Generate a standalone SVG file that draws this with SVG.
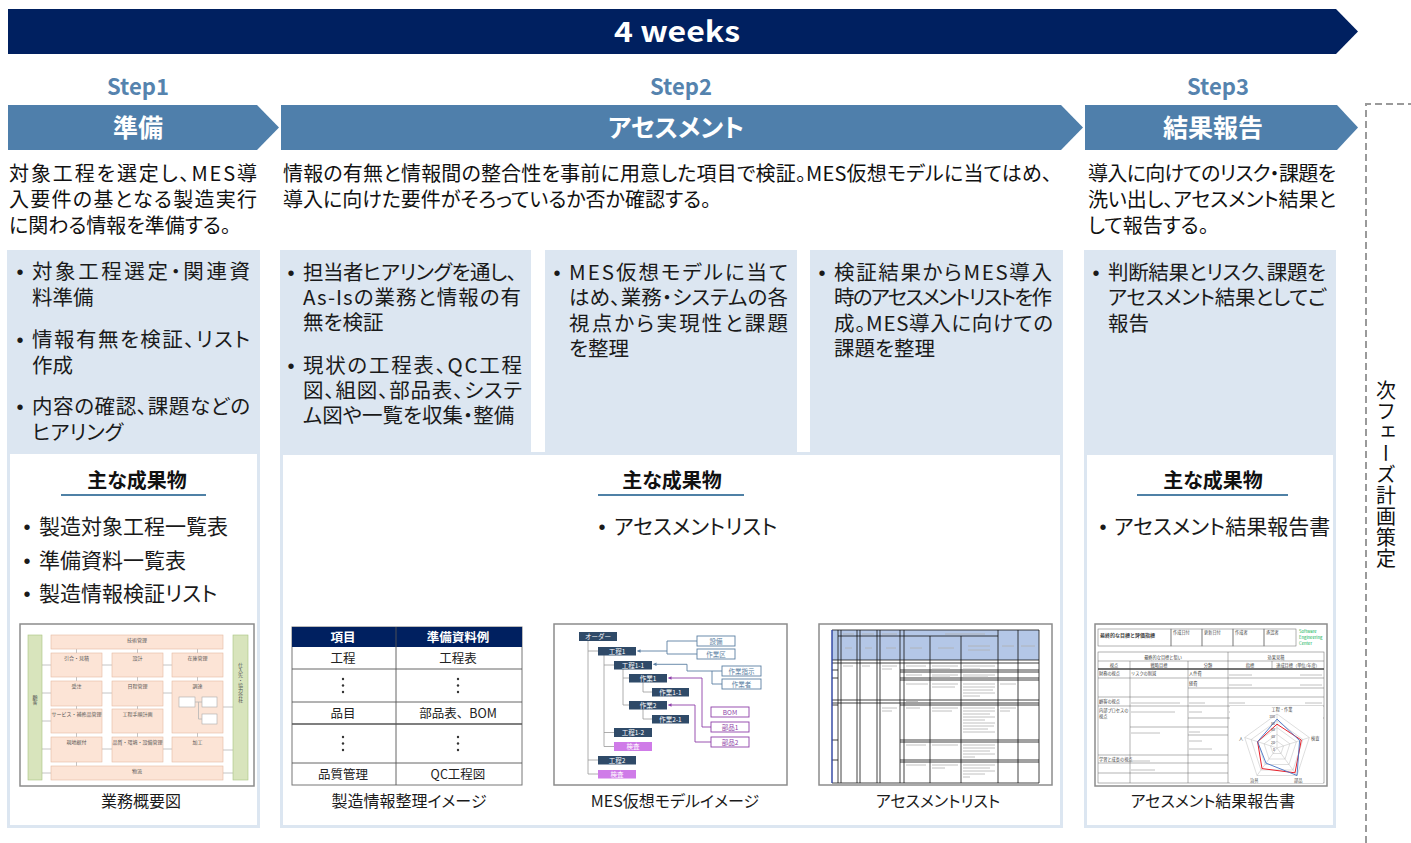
<svg xmlns="http://www.w3.org/2000/svg" width="1411" height="843" viewBox="0 0 1411 843">
<defs>
<style>
.jp{font-family:"Noto Sans CJK JP","Noto Sans",sans-serif;font-feature-settings:"palt" 1}
.desc{font-size:20px;fill:#111}
.bx{font-size:20.5px;fill:#1a1a1a}
.dl{font-size:21px;fill:#1a1a1a}
.bul{font-family:"Liberation Sans",sans-serif;font-size:20px;fill:#1a1a1a;text-anchor:middle}
.step{font-size:22px;font-weight:bold;fill:#5583ae;text-anchor:middle}
.chev{font-size:25px;font-weight:bold;fill:#fff;text-anchor:middle}
.hdr{font-size:20px;font-weight:bold;fill:#111;text-anchor:middle}
.cap{font-size:16px;fill:#1a1a1a;text-anchor:middle}
.lb{fill:#dce6f1}
.wh{fill:#fff}
.frame{fill:#fff;stroke:#8c8c8c;stroke-width:1.5}
.ul{stroke:#4f81a6;stroke-width:2}
.pe{fill:#fce4d6;stroke:#e3b8a0;stroke-width:0.6}
.gr{fill:#d8e4bc;stroke:#a9c47f;stroke-width:0.6}
.t5{font-family:"Noto Sans CJK JP",sans-serif;font-size:5px;fill:#555;text-anchor:middle}
.cl{stroke:#b5b5b5;stroke-width:0.8;fill:none}
.tb{font-family:"Noto Sans CJK JP",sans-serif;font-size:12.5px;fill:#222;text-anchor:middle}
.nd{fill:#2f4a68}
.ndt{font-family:"Noto Sans CJK JP",sans-serif;font-size:6.5px;fill:#fff;text-anchor:middle}
.ins{fill:#cf7be8}
.bo{fill:#fff;stroke:#5b7fa3;stroke-width:0.9}
.bot{font-family:"Noto Sans CJK JP",sans-serif;font-size:6.5px;fill:#5b7fa3;text-anchor:middle}
.po{fill:#fff;stroke:#8e3fa8;stroke-width:0.9}
.pot{font-family:"Noto Sans CJK JP",sans-serif;font-size:6.5px;fill:#8e3fa8;text-anchor:middle}
.tl{stroke:#999;stroke-width:0.8;fill:none}
.k{stroke:#111;stroke-width:0.8;fill:none}
.ph{stroke:#b0b0b0;stroke-width:0.8}
.r5{font-family:"Noto Sans CJK JP",sans-serif;font-size:4.2px;fill:#444}
.rl{stroke:#666;stroke-width:0.5;fill:none}
</style>
<marker id="ab" viewBox="0 0 6 6" refX="5" refY="3" markerWidth="4" markerHeight="4" orient="auto"><path d="M0,0 L6,3 L0,6 z" fill="#5b7fa3"/></marker>
<marker id="ap" viewBox="0 0 6 6" refX="5" refY="3" markerWidth="4" markerHeight="4" orient="auto"><path d="M0,0 L6,3 L0,6 z" fill="#8e3fa8"/></marker>
</defs>
<rect width="1411" height="843" fill="#fff"/>

<!-- banner -->
<g id="banner">
<polygon points="8,9 1336,9 1358,31.5 1336,54 8,54" fill="#002060"/>
<text x="614" y="42" class="jp" font-size="28" font-weight="bold" fill="#fff" textLength="126" lengthAdjust="spacingAndGlyphs">4 weeks</text>
</g>

<!-- steps -->
<g id="step1-head">
<text x="138" y="95" class="jp step">Step1</text>
<polygon points="8,105 257,105 279,127.5 257,150 8,150" fill="#4f7fab"/>
<text x="138" y="137" class="jp chev">準備</text>
</g>
<g id="step2-head">
<text x="681" y="95" class="jp step">Step2</text>
<polygon points="281,105 1061,105 1083,127.5 1061,150 281,150" fill="#4f7fab"/>
<text x="676" y="137" class="jp chev">アセスメント</text>
</g>
<g id="step3-head">
<text x="1218" y="95" class="jp step">Step3</text>
<polygon points="1085,105 1337,105 1358,127.5 1337,150 1085,150" fill="#4f7fab"/>
<text x="1213" y="137" class="jp chev">結果報告</text>
</g>

<!-- descriptions -->
<g id="step1-desc">
<text class="jp desc"><tspan x="9" y="181" textLength="248" lengthAdjust="spacing">対象工程を選定し、MES導</tspan><tspan x="9" y="207" textLength="248" lengthAdjust="spacing">入要件の基となる製造実行</tspan><tspan x="9" y="233">に関わる情報を準備する。</tspan></text>
</g>
<g id="step2-desc">
<text class="jp desc"><tspan x="283" y="181" textLength="769" lengthAdjust="spacing">情報の有無と情報間の整合性を事前に用意した項目で検証。MES仮想モデルに当てはめ、</tspan><tspan x="283" y="207">導入に向けた要件がそろっているか否か確認する。</tspan></text>
</g>
<g id="step3-desc">
<text class="jp desc"><tspan x="1088" y="181" textLength="248" lengthAdjust="spacing">導入に向けてのリスク・課題を</tspan><tspan x="1088" y="207" textLength="248" lengthAdjust="spacing">洗い出し、アセスメント結果と</tspan><tspan x="1088" y="233">して報告する。</tspan></text>
</g>

<!-- panels -->
<g id="step1-panel">
<rect x="7" y="250" width="253" height="578" class="lb"/>
<rect x="10" y="454" width="247" height="371" class="wh"/>
<text x="20" y="278.5" class="bul">•</text>
<text class="jp bx"><tspan x="32" y="278.5" textLength="218" lengthAdjust="spacing">対象工程選定・関連資</tspan><tspan x="32" y="304.5">料準備</tspan></text>
<text x="20" y="346.5" class="bul">•</text>
<text class="jp bx"><tspan x="32" y="346.5" textLength="218" lengthAdjust="spacing">情報有無を検証、リスト</tspan><tspan x="32" y="372.5">作成</tspan></text>
<text x="20" y="413.5" class="bul">•</text>
<text class="jp bx"><tspan x="32" y="413.5" textLength="218" lengthAdjust="spacing">内容の確認、課題などの</tspan><tspan x="32" y="439.5">ヒアリング</tspan></text>
</g>

<g id="step2-panel">
<rect x="280" y="250" width="251" height="204" class="lb"/>
<rect x="545" y="250" width="252" height="204" class="lb"/>
<rect x="810" y="250" width="253" height="204" class="lb"/>
<rect x="280" y="452" width="783" height="376" class="lb"/>
<rect x="283" y="455" width="777" height="370" class="wh"/>
<text x="291" y="279.5" class="bul">•</text>
<text class="jp bx"><tspan x="303" y="279.5" textLength="214" lengthAdjust="spacing">担当者ヒアリングを通し、</tspan><tspan x="303" y="304.5" textLength="218" lengthAdjust="spacing">As-Isの業務と情報の有</tspan><tspan x="303" y="329.5">無を検証</tspan></text>
<text x="291" y="372.5" class="bul">•</text>
<text class="jp bx"><tspan x="303" y="372.5" textLength="219" lengthAdjust="spacing">現状の工程表、QC工程</tspan><tspan x="303" y="397.5" textLength="219" lengthAdjust="spacing">図、組図、部品表、システ</tspan><tspan x="303" y="422.5">ム図や一覧を収集・整備</tspan></text>
<text x="557" y="279.5" class="bul">•</text>
<text class="jp bx"><tspan x="569" y="279.5" textLength="219" lengthAdjust="spacing">MES仮想モデルに当て</tspan><tspan x="569" y="304.5" textLength="219" lengthAdjust="spacing">はめ、業務・システムの各</tspan><tspan x="569" y="330.5" textLength="219" lengthAdjust="spacing">視点から実現性と課題</tspan><tspan x="569" y="355.5">を整理</tspan></text>
<text x="822" y="279.5" class="bul">•</text>
<text class="jp bx"><tspan x="834" y="279.5" textLength="218" lengthAdjust="spacing">検証結果からMES導入</tspan><tspan x="834" y="304.5" textLength="218" lengthAdjust="spacing">時のアセスメントリストを作</tspan><tspan x="834" y="330.5" textLength="219" lengthAdjust="spacing">成。MES導入に向けての</tspan><tspan x="834" y="355.5">課題を整理</tspan></text>
</g>

<g id="step3-panel">
<rect x="1084" y="250" width="252" height="578" class="lb"/>
<rect x="1087" y="455" width="246" height="370" class="wh"/>
<text x="1096" y="279.5" class="bul">•</text>
<text class="jp bx"><tspan x="1108" y="279.5" textLength="218" lengthAdjust="spacing">判断結果とリスク、課題を</tspan><tspan x="1108" y="304.5" textLength="218" lengthAdjust="spacing">アセスメント結果としてご</tspan><tspan x="1108" y="330.5">報告</tspan></text>
</g>

<!-- deliverables -->
<g id="step1-deliv">
<text x="137" y="488" class="jp hdr">主な成果物</text>
<line x1="61" y1="495" x2="206" y2="495" class="ul"/>
<text x="27" y="533.5" class="bul">•</text>
<text x="39" y="533.5" class="jp dl">製造対象工程一覧表</text>
<text x="27" y="567.5" class="bul">•</text>
<text x="39" y="567.5" class="jp dl">準備資料一覧表</text>
<text x="27" y="600.5" class="bul">•</text>
<text x="39" y="600.5" class="jp dl">製造情報検証リスト</text>
</g>
<g id="step2-deliv">
<text x="672" y="488" class="jp hdr">主な成果物</text>
<line x1="598" y1="495" x2="744" y2="495" class="ul"/>
<text x="602" y="533.5" class="bul">•</text>
<text x="614" y="533.5" class="jp dl">アセスメントリスト</text>
</g>
<g id="step3-deliv">
<text x="1213" y="488" class="jp hdr">主な成果物</text>
<line x1="1137" y1="495" x2="1288" y2="495" class="ul"/>
<text x="1103" y="533.5" class="bul">•</text>
<text x="1114" y="533.5" class="jp dl">アセスメント結果報告書</text>
</g>

<!-- thumbnail 1: business overview -->
<g id="thumb-gyomu">
<rect x="20" y="624" width="234" height="162" class="frame"/>
<g class="cl">
<path d="M42,665 H51 M42,693 H51 M42,721 H51 M42,749 H51 M42,773 H51"/>
<path d="M223,707 H233 M223,750 H233 M223,773 H233"/>
<path d="M76.5,649 V653 M137.5,649 V653 M197.5,649 V653"/>
<path d="M76.5,677 V681 M137.5,677 V681 M197.5,677 V681"/>
<path d="M76.5,706 V709 M137.5,706 V709 M76.5,733 V737 M137.5,733 V737 M197.5,733 V737 M76.5,762 V766"/>
<path d="M102,665 H112 M163,665 H172 M102,693 H112 M163,693 H172 M102,749 H112 M163,749 H172"/>
</g>
<rect x="28" y="635" width="14" height="145" class="gr"/>
<rect x="233" y="635" width="15" height="145" class="gr"/>
<text x="35" y="700" class="t5" style="writing-mode:vertical-rl">顧客</text>
<text x="240.5" y="683" class="t5" style="writing-mode:vertical-rl">仕入先・協力会社</text>
<rect x="51" y="635" width="172" height="14" class="pe"/><text x="137" y="642" class="t5">技術管理</text>
<rect x="51" y="653" width="51" height="24" class="pe"/><text x="76.5" y="659.5" class="t5">引合・見積</text>
<rect x="112" y="653" width="51" height="24" class="pe"/><text x="137.5" y="659.5" class="t5">設計</text>
<rect x="172" y="653" width="51" height="24" class="pe"/><text x="197.5" y="659.5" class="t5">在庫管理</text>
<rect x="51" y="681" width="51" height="25" class="pe"/><text x="76.5" y="687.5" class="t5">受注</text>
<rect x="112" y="681" width="51" height="25" class="pe"/><text x="137.5" y="687.5" class="t5">日程管理</text>
<rect x="172" y="681" width="51" height="52" class="pe"/><text x="197.5" y="687.5" class="t5">調達</text>
<rect x="179" y="697" width="16" height="10" fill="#fff" stroke="#aaa" stroke-width="0.6"/>
<rect x="202" y="697" width="15" height="10" fill="#fff" stroke="#aaa" stroke-width="0.6"/>
<rect x="202" y="714" width="15" height="10" fill="#fff" stroke="#aaa" stroke-width="0.6"/>
<path d="M195,702 H202 M198.5,702 V719 H202" class="cl"/>
<rect x="51" y="709" width="51" height="24" class="pe"/><text x="76.5" y="715.5" class="t5">サービス・補修品管理</text>
<rect x="112" y="709" width="51" height="24" class="pe"/><text x="137.5" y="715.5" class="t5">工程手順計画</text>
<rect x="51" y="737" width="51" height="25" class="pe"/><text x="76.5" y="743.5" class="t5">現地据付</text>
<rect x="112" y="737" width="51" height="25" class="pe"/><text x="137.5" y="743.5" class="t5">品質・環境・設備管理</text>
<rect x="172" y="737" width="51" height="25" class="pe"/><text x="197.5" y="743.5" class="t5">加工</text>
<rect x="51" y="766" width="172" height="14" class="pe"/><text x="137" y="773" class="t5">物流</text>
<text x="141" y="806.5" class="jp cap">業務概要図</text>
</g>

<!-- thumbnail 2: table -->
<g id="thumb-table">
<rect x="292" y="627" width="230" height="158" fill="#fff" stroke="#777" stroke-width="1"/>
<rect x="292" y="627" width="230" height="20" fill="#002060"/>
<text x="343" y="641.5" class="tb" font-weight="bold" style="fill:#fff">項目</text>
<text x="458" y="641.5" class="tb" font-weight="bold" style="fill:#fff">準備資料例</text>
<g stroke="#555" stroke-width="0.9">
<line x1="396" y1="627" x2="396" y2="785"/>
<line x1="292" y1="669" x2="522" y2="669"/>
<line x1="292" y1="702" x2="522" y2="702"/>
<line x1="292" y1="724" x2="522" y2="724" stroke-width="1.6"/>
<line x1="292" y1="763" x2="522" y2="763"/>
</g>
<text x="343" y="663" class="tb">工程</text>
<text x="458" y="663" class="tb">工程表</text>
<text x="343" y="718" class="tb">品目</text>
<text x="458" y="718" class="tb">部品表、BOM</text>
<text x="343" y="779" class="tb">品質管理</text>
<text x="458" y="779" class="tb">QC工程図</text>
<g fill="#333">
<circle cx="343" cy="679" r="1.2"/><circle cx="343" cy="685.5" r="1.2"/><circle cx="343" cy="692" r="1.2"/>
<circle cx="458" cy="679" r="1.2"/><circle cx="458" cy="685.5" r="1.2"/><circle cx="458" cy="692" r="1.2"/>
<circle cx="343" cy="737" r="1.2"/><circle cx="343" cy="743.5" r="1.2"/><circle cx="343" cy="750" r="1.2"/>
<circle cx="458" cy="737" r="1.2"/><circle cx="458" cy="743.5" r="1.2"/><circle cx="458" cy="750" r="1.2"/>
</g>
<text x="409" y="806.5" class="jp cap">製造情報整理イメージ</text>
</g>

<!-- thumbnail 3: MES model -->
<g id="thumb-mes">
<rect x="554" y="624" width="233" height="161" class="frame"/>
<path class="tl" d="M588,641 V774 M588,651 H598 M588,760 H598 M588,774 H598 M604,655 V746.5 M604,665 H614 M604,732.5 H614 M604,746.5 H614 M623,669 V705 M623,678 H629 M623,705 H629 M643,682 V692 H652 M643,709 V719 H652"/>
<rect x="579" y="632" width="38" height="9" class="nd"/><text x="598" y="639" class="ndt">オーダー</text>
<rect x="598" y="647" width="38" height="8.5" class="nd"/><text x="617" y="653.6" class="ndt">工程1</text>
<rect x="614" y="661" width="38" height="8.5" class="nd"/><text x="633" y="667.6" class="ndt">工程1-1</text>
<rect x="629" y="674" width="38" height="8.5" class="nd"/><text x="648" y="680.6" class="ndt">作業1</text>
<rect x="652" y="688" width="37" height="8.5" class="nd"/><text x="670.5" y="694.6" class="ndt">作業1-1</text>
<rect x="629" y="701" width="38" height="8.5" class="nd"/><text x="648" y="707.6" class="ndt">作業2</text>
<rect x="652" y="715" width="37" height="8.5" class="nd"/><text x="670.5" y="721.6" class="ndt">作業2-1</text>
<rect x="614" y="728" width="38" height="9" class="nd"/><text x="633" y="735" class="ndt">工程1-2</text>
<rect x="614" y="742" width="38" height="9" class="ins"/><text x="633" y="749" class="ndt">検査</text>
<rect x="598" y="756" width="38" height="8.5" class="nd"/><text x="617" y="762.6" class="ndt">工程2</text>
<rect x="598" y="770" width="38" height="8.5" class="ins"/><text x="617" y="776.6" class="ndt">検査</text>
<path d="M697,641 H667 V654 H697" fill="none" stroke="#5b7fa3" stroke-width="0.9"/>
<path d="M667,651 H637.5" fill="none" stroke="#5b7fa3" stroke-width="0.9" marker-end="url(#ab)"/>
<path d="M722,671 H712 V684 H722 M712,671 H687 V664.3" fill="none" stroke="#5b7fa3" stroke-width="0.9"/>
<path d="M687,664.3 H653.5" fill="none" stroke="#5b7fa3" stroke-width="0.9" marker-end="url(#ab)"/>
<path d="M711,727 H702 V678 H668.5" fill="none" stroke="#8e3fa8" stroke-width="0.9" marker-end="url(#ap)"/>
<path d="M711,742 H695 V705 H668.5" fill="none" stroke="#8e3fa8" stroke-width="0.9" marker-end="url(#ap)"/>
<rect x="697" y="636" width="38" height="10" class="bo"/><text x="716" y="643.5" class="bot">設備</text>
<rect x="697" y="649" width="38" height="10" class="bo"/><text x="716" y="656.5" class="bot">作業区</text>
<rect x="722" y="666" width="39" height="10" class="bo"/><text x="741.5" y="673.5" class="bot">作業指示</text>
<rect x="722" y="679" width="39" height="10" class="bo"/><text x="741.5" y="686.5" class="bot">作業者</text>
<rect x="711" y="707" width="38" height="10" class="po"/><text x="730" y="714.5" class="pot">BOM</text>
<rect x="711" y="722" width="38" height="10" class="po"/><text x="730" y="729.5" class="pot">部品1</text>
<rect x="711" y="737" width="38" height="10" class="po"/><text x="730" y="744.5" class="pot">部品2</text>
<text x="675" y="806.5" class="jp cap">MES仮想モデルイメージ</text>
</g>

<!-- thumbnail 4: assessment list -->
<g id="thumb-list">
<rect x="819" y="624" width="233" height="161" class="frame"/>
<rect x="832" y="630" width="207" height="30" fill="#b4c7e7"/>
<g class="k">
<path d="M838,630 V783 M841,630 V783 M857,630 V783 M860,630 V783 M877,630 V783 M880,630 V783 M900,630 V783 M904,630 V783 M930,636 V783 M961,636 V783 M998,630 V783 M1018,630 V783 M1039,630 V783"/>
<path d="M832,630 H1039 M838,636 H998 M832,660 H1039 M832,663 H1039 M900,670 H1039 M900,672 H1039 M900,678 H1039 M900,680 H1039 M832,700 H1039 M832,703 H1039 M900,705 H1039 M900,740 H1039 M900,742 H1039 M900,760 H1039 M900,762 H1039 M832,783 H1039"/>
<path d="M832,670 H838 M832,678 H838 M832,705 H838 M832,740 H838 M832,760 H838"/>
</g>
<line x1="832" y1="630" x2="832" y2="783" stroke="#2a3fa0" stroke-width="1.4"/>
<g class="ph">
<path d="M843,634 H854 M862,634 H874 M882,634 H897 M945,634 H985 M1002,646 H1014 M1021,646 H1035"/>
<path d="M845,648 H852 M865,648 H872 M886,648 H896 M910,648 H922 M938,648 H954 M968,646 H990 M968,650 H990"/>
<path d="M843,666 H853 M862,666 H870 M882,666 H897 M882,669 H892 M906,666 H926 M932,666 H958 M932,669 H950 M963,666 H995 M963,669 H980"/>
<path d="M906,675 H922 M932,675 H958 M932,677 H950 M963,675 H995 M963,677 H988"/>
<path d="M906,684 H928 M932,684 H958 M932,687 H955 M963,684 H995 M963,687 H995 M963,690 H993 M963,693 H995 M963,696 H980 M1000,684 H1016"/>
<path d="M906,701.5 H918"/>
<path d="M882,708 H897 M882,711 H892 M906,708 H920 M932,708 H958 M932,711 H952 M963,708 H995 M963,711 H995 M963,714 H990 M963,717 H995 M963,720 H985 M963,723 H995 M963,726 H994 M963,729 H988 M963,732 H995 M1000,708 H1016 M1000,711 H1010"/>
<path d="M906,745 H926 M932,745 H958 M963,745 H995 M963,748 H995 M963,751 H990 M963,754 H995 M963,757 H975"/>
<path d="M906,765 H926 M932,765 H958 M932,768 H945 M963,765 H995 M963,768 H990 M963,771 H995 M963,774 H985 M963,777 H970"/>
</g>
<text x="938" y="806.5" class="jp cap">アセスメントリスト</text>
</g>

<!-- thumbnail 5: report -->
<g id="thumb-report">
<rect x="1095" y="624" width="232" height="162" class="frame"/>
<g class="rl">
<rect x="1098" y="629" width="73" height="17"/>
<rect x="1171" y="629" width="31" height="17"/>
<rect x="1202" y="629" width="31" height="17"/>
<rect x="1233" y="629" width="31" height="17"/>
<rect x="1264" y="629" width="32" height="17"/>
<rect x="1098" y="652" width="226" height="131"/>
<path d="M1098,661 H1324 M1228,652 V783 M1130,661 V783 M1188,661 V783 M1272,661 V669"/>
<path d="M1098,678 H1324 M1188,688 H1324 M1098,697 H1324 M1098,706 H1324 M1188,718 H1324 M1130,727 H1228 M1188,735 H1228 M1098,755 H1228 M1098,763 H1228 M1098,773 H1228"/>
</g>
<line x1="1098" y1="669" x2="1324" y2="669" stroke="#444" stroke-width="1.3"/>
<text x="1100" y="637" class="r5" font-weight="bold" style="font-size:5px">最終的な目標と評価指標</text>
<text x="1173" y="633.5" class="r5">作成日付</text>
<text x="1204" y="633.5" class="r5">更新日付</text>
<text x="1235" y="633.5" class="r5">作成者</text>
<text x="1266" y="633.5" class="r5">承認者</text>
<text class="r5" style="fill:#00b050"><tspan x="1299" y="633">Software</tspan><tspan x="1299" y="639">Engineering</tspan><tspan x="1299" y="645">Center</tspan></text>
<text x="1163" y="658.5" class="r5" text-anchor="middle">最終的な目標と狙い</text>
<text x="1276" y="658.5" class="r5" text-anchor="middle">効果見積</text>
<text x="1114" y="667" class="r5" text-anchor="middle">視点</text>
<text x="1159" y="667" class="r5" text-anchor="middle">戦略目標</text>
<text x="1208" y="667" class="r5" text-anchor="middle">分類</text>
<text x="1250" y="667" class="r5" text-anchor="middle">指標</text>
<text x="1298" y="667" class="r5" text-anchor="middle">達成目標（単位/年度）</text>
<text x="1099" y="675" class="r5">財務の視点</text>
<text x="1131" y="675" class="r5">リスクの削減</text>
<text x="1189" y="675" class="r5">人件費</text>
<text x="1189" y="685" class="r5">経費</text>
<text x="1099" y="703" class="r5">顧客の視点</text>
<text class="r5"><tspan x="1099" y="711.5">内部プロセスの</tspan><tspan x="1099" y="717.5">視点</tspan></text>
<text x="1099" y="761" class="r5">学習と成長の視点</text>
<g class="ph" stroke-width="0.6">
<path d="M1229,675 H1252 M1300,675 H1322 M1229,685 H1252 M1300,685 H1322 M1131,703 H1180 M1189,703 H1205 M1229,703 H1245 M1305,703 H1322 M1131,712 H1175 M1189,712 H1202 M1229,712 H1250 M1131,733 H1160 M1189,732 H1200 M1189,741 H1202 M1189,749 H1212 M1131,761 H1150 M1131,770 H1155"/>
</g>
<rect x="1230" y="706" width="93" height="77" fill="#fff"/>
<g fill="none" stroke="#bdbdbd" stroke-width="0.5">
<polygon points="1277,714 1309.3,737.5 1297,775.5 1257,775.5 1244.7,737.5"/>
<polygon points="1277,720.8 1302.9,739.6 1293,770 1261,770 1251.1,739.6"/>
<polygon points="1277,727.6 1296.4,741.7 1289,764.5 1265,764.5 1257.6,741.7"/>
<polygon points="1277,734.4 1289.9,743.8 1285,759 1269,759 1264.1,743.8"/>
<polygon points="1277,741.2 1283.5,745.9 1281,753.5 1273,753.5 1270.5,745.9"/>
<path d="M1277,748 L1277,714 M1277,748 L1309.3,737.5 M1277,748 L1297,775.5 M1277,748 L1257,775.5 M1277,748 L1244.7,737.5"/>
</g>
<polygon points="1277,724.2 1301.3,740.1 1295,772.8 1262,768.6 1257.6,741.7" fill="none" stroke="#e8202a" stroke-width="1"/>
<polygon points="1277,719.1 1299.6,740.6 1297,775.5 1266,763.1 1257.6,741.7" fill="none" stroke="#4472c4" stroke-width="0.9"/>
<text x="1282" y="711" class="r5" text-anchor="middle">工程・作業</text>
<text x="1311" y="740" class="r5">検査</text>
<text x="1294" y="782" class="r5">部品</text>
<text x="1250" y="782" class="r5">治具</text>
<text x="1239" y="740" class="r5">人</text>
<text class="r5" text-anchor="end" style="font-size:3.5px"><tspan x="1275" y="718">100</tspan><tspan x="1275" y="724.5">80</tspan><tspan x="1275" y="731">60</tspan><tspan x="1275" y="737.5">40</tspan><tspan x="1275" y="744">20</tspan><tspan x="1275" y="750.5">0</tspan></text>
<text x="1213" y="806.5" class="jp cap">アセスメント結果報告書</text>
</g>

<!-- next phase -->
<g id="next-phase">
<path d="M1366,843 V104 H1411" fill="none" stroke="#9a9a9a" stroke-width="2" stroke-dasharray="7 4"/>
<text x="1386" y="380" font-family="Noto Sans CJK JP, sans-serif" font-size="20" fill="#111" letter-spacing="1" style="writing-mode:vertical-rl">次フェーズ計画策定</text>
</g>
</svg>
